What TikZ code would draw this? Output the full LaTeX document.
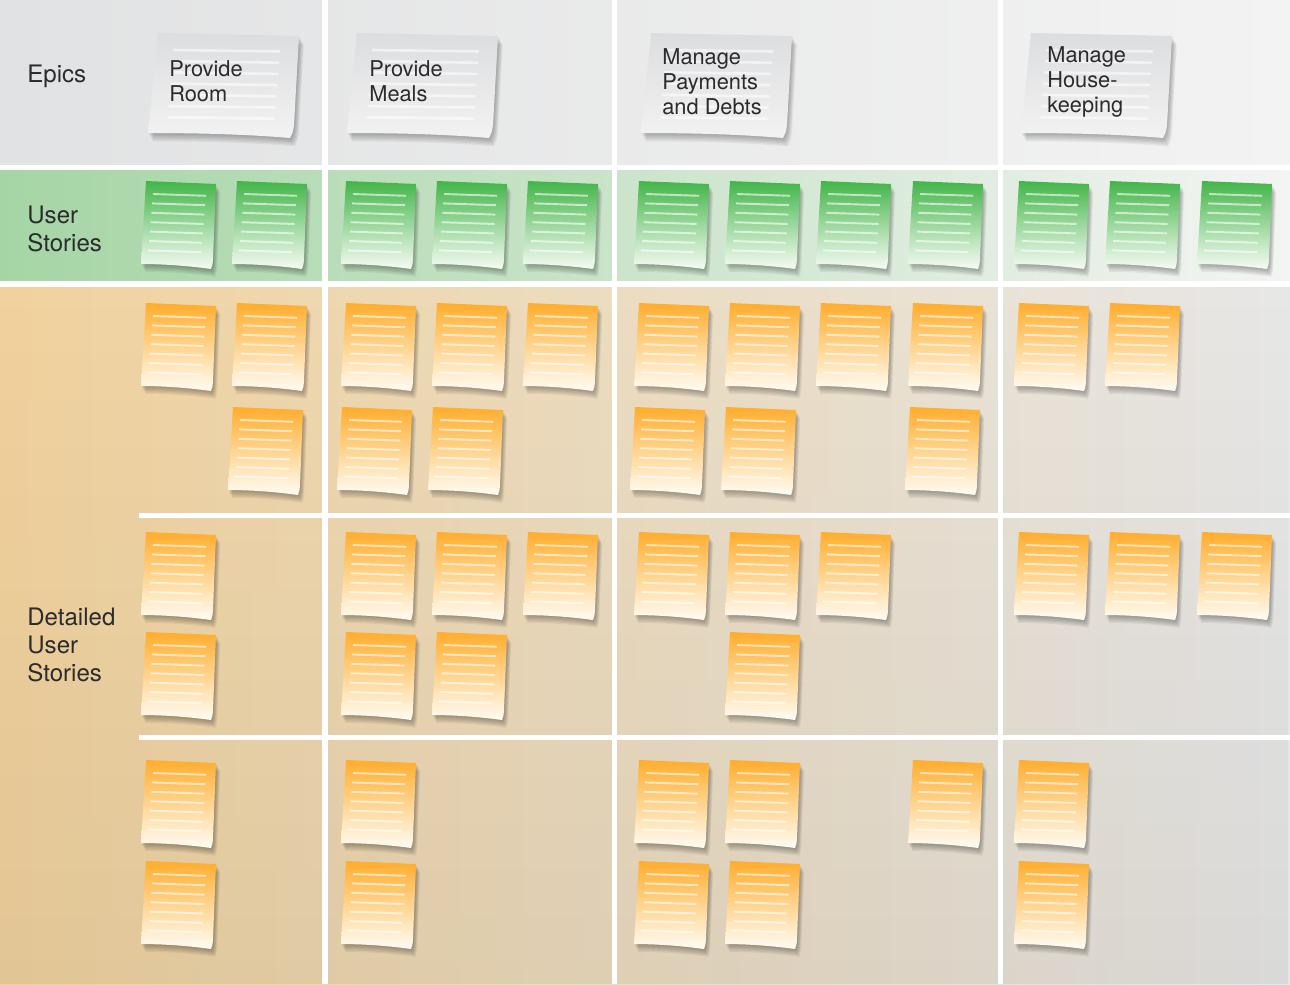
\documentclass[tikz,border=0pt]{standalone}
\usepackage{fontspec}
\setmainfont{TeX Gyre Heros}
\usetikzlibrary{fadings}
\definecolor{epicBgL}{HTML}{E1E2E3}
\definecolor{epicBgR}{HTML}{F3F3F3}
\definecolor{storyBgL}{HTML}{A5D5A5}
\definecolor{storyBgM}{HTML}{E2E9E2}
\definecolor{storyBgR}{HTML}{F3F4F3}
\definecolor{detBgL}{HTML}{F1D29D}
\definecolor{detBgM}{HTML}{EAE2D4}
\definecolor{detBgR}{HTML}{E7E7E7}
\definecolor{epicTop}{HTML}{DCDDDF}
\definecolor{epicBot}{HTML}{F2F2F2}
\definecolor{greenTop}{HTML}{42B548}
\definecolor{greenBot}{HTML}{F6FBF4}
\definecolor{orangeTop}{HTML}{FFAD2C}
\definecolor{orangeBot}{HTML}{FFFCF4}
\definecolor{labelText}{HTML}{2B2B2D}

\tikzset{
  notepath/.style={insert path={(5,0) -- (75,3) -- (72,78) .. controls (71.5,84) .. (70,88) .. controls (45,84.5) and (20,83) .. (0,83) -- cycle}},
  epicpath/.style={insert path={(10,0) -- (151,3) -- (146,92) .. controls (145,99) .. (142,105) .. controls (95,101) and (45,100) .. (0,100) -- cycle}},
  noteline/.style={white, opacity=0.6, line width=1.1pt},
  epicline/.style={white, opacity=0.55, line width=1.5pt},
}

% one story note, top-left corner at (x,y)
\newcommand{\storynote}[4]{%
  \begin{scope}[shift={(#3,#4)}]
    \foreach \k in {1,...,6}
      \fill[black, opacity=0.055, shift={(0.7*\k,1.3*\k)}, notepath];
    \shade[top color=#1, bottom color=#2, notepath];
    \foreach \i in {0,...,6}
      \draw[noteline] ({12-0.8*\i},{13+9.4*\i}) -- ++(53,1.8);
  \end{scope}}

% one epic card
\newcommand{\epiccard}[2]{%
  \begin{scope}[shift={(#1,#2)}]
    \foreach \k in {1,...,6}
      \fill[black, opacity=0.05, shift={(0.8*\k,1.4*\k)}, epicpath];
    \shade[top color=epicTop, bottom color=epicBot, epicpath];
    \foreach \i in {0,...,6}
      \draw[epicline] ({25-0.9*\i},{17+11.2*\i}) -- ++(107,1.5);
  \end{scope}}

\begin{document}
\begin{tikzpicture}[
  x=0.02cm, y=-0.02cm,
  lbl/.style ={anchor=west, align=left, inner sep=0pt, text=labelText, font=\fontsize{13.7}{15.9}\selectfont},
  etxt/.style={anchor=west, align=left, inner sep=0pt, text=labelText, font=\fontsize{12.4}{14.2}\selectfont},
  gridline/.style={white, line width=2.9pt},
]
\useasboundingbox (0,0) rectangle (1290,984);

% ==================== Bands ====================
\shade[left color=epicBgL, right color=epicBgR] (0,0) rectangle (1290,168);
\shade[left color=storyBgL, middle color=storyBgM, right color=storyBgR] (0,168) rectangle (1290,284);
\shade[left color=detBgL, middle color=detBgM, right color=detBgR] (0,284) rectangle (1290,984);
\fill[black, opacity=0.06, path fading=north] (0,284) rectangle (1290,984);

% ==================== Grid ====================
\draw[gridline] (0,167.5) -- (1290,167.5);
\draw[gridline] (0,284) -- (1290,284);
\draw[gridline] (139,515.5) -- (1290,515.5);
\draw[gridline] (139,737.5) -- (1290,737.5);
\foreach \gx in {325,614.5,1000.5}
  \draw[gridline] (\gx,0) -- (\gx,984);

% ==================== Row labels ====================
\node[lbl] (epics) at (27,76) {Epics};
\node[lbl] (stories) at (27,229) {User\\Stories};
\node[lbl] (detailed) at (27,645) {Detailed\\User\\Stories};

% ==================== Epics ====================
\foreach \ex in {148,347,641,1021}
  {\epiccard{\ex}{33}}
\node[etxt] (room) at (169,81) {Provide\\Room};
\node[etxt] (meals) at (369,81) {Provide\\Meals};
\node[etxt] (payments) at (662,82) {Manage\\Payments\\and Debts};
\node[etxt] (housekeeping) at (1047,82) {Manage\\House-\\keeping};

% ==================== User stories ====================
\foreach \nx in {141,232,341,432,523,634,725,816,908,1014,1105,1197}
  {\storynote{greenTop}{greenBot}{\nx}{181}}

% ==================== Detailed user stories ====================
\foreach \nx in {141,232,341,432,523,634,725,816,908,1014,1105}
  {\storynote{orangeTop}{orangeBot}{\nx}{303}}
\foreach \nx in {228,337,428,630,721,905}
  {\storynote{orangeTop}{orangeBot}{\nx}{407}}

\foreach \nx in {141,341,432,523,634,725,816,1014,1105,1197}
  {\storynote{orangeTop}{orangeBot}{\nx}{532}}
\foreach \nx in {141,341,432,725}
  {\storynote{orangeTop}{orangeBot}{\nx}{632}}

\foreach \nx in {141,341,634,725,908,1014}
  {\storynote{orangeTop}{orangeBot}{\nx}{760}}
\foreach \nx in {141,341,634,725,1014}
  {\storynote{orangeTop}{orangeBot}{\nx}{861}}

\end{tikzpicture}
\end{document}
